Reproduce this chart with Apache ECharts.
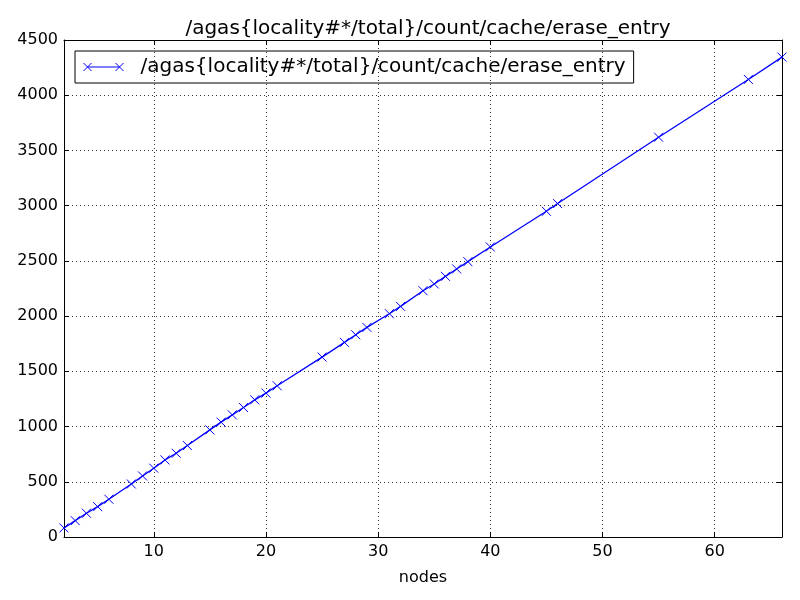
<!DOCTYPE html>
<html>
<head>
<meta charset="utf-8">
<script src="https://cdn.jsdelivr.net/npm/echarts@6/dist/echarts.min.js"></script>
<style>
html, body { margin: 0; padding: 0; background: #fff; }
#main { width: 800px; height: 600px; }
</style>
</head>
<body>
<div id="main"></div>
<script>
// 数据
var seriesName = '/agas{locality#*/total}/count/cache/erase_entry';
var nodes = [2, 3, 4, 5, 6, 8, 9, 10, 11, 12, 13, 15, 16, 17, 18, 19, 20, 21,
	25, 27, 28, 29, 31, 32, 34, 35, 36, 37, 38, 40, 45, 46, 55, 63, 66];
var counts = [82, 148, 215, 275, 342, 480, 553, 623, 698, 758, 828, 970, 1040, 1106, 1172, 1242, 1303, 1369,
	1629, 1762, 1831, 1898, 2022, 2088, 2230, 2291, 2360, 2427, 2493, 2626, 2949, 3019, 3620, 4143, 4345];
var xTicks = [10, 20, 30, 40, 50, 60];

var font = 'DejaVu Sans';
var xMark = 'path://M0,0L10,10M10,0L0,10';
var legendIcon = 'path://M4,4L36,4M0,0L8,8M8,0L0,8M32,0L40,8M40,0L32,8';

var points = [];
for (var i = 0; i < nodes.length; i++) {
	points.push([nodes[i], counts[i]]);
}

var gridLine = { show: true, lineStyle: { color: '#000', width: 0.8, type: [1, 3] } };

// 公共的x轴配置
function makeX(pos, showLabel) {
	return {
		type: 'value', position: pos, min: 2, max: 66,
		axisLine: { show: true, onZero: false, lineStyle: { color: '#000', width: 1 } },
		axisTick: { show: true, inside: true, length: 5, customValues: xTicks, lineStyle: { color: '#000' } },
		axisLabel: { show: showLabel, customValues: xTicks, color: '#000', fontFamily: font, fontSize: 16, margin: 7 },
		splitLine: showLabel ? gridLine : { show: false }
	};
}
function makeY(pos, showLabel) {
	return {
		type: 'value', position: pos, min: 0, max: 4500, interval: 500,
		axisLine: { show: true, onZero: false, lineStyle: { color: '#000', width: 1 } },
		axisTick: { show: true, inside: true, length: 5, lineStyle: { color: '#000' } },
		axisLabel: {
			show: showLabel, color: '#000', fontFamily: font, fontSize: 16, margin: 6,
			formatter: function (v) { return String(v); }
		},
		splitLine: showLabel ? gridLine : { show: false }
	};
}

var xBottom = makeX('bottom', true);
xBottom.name = 'nodes';
xBottom.nameLocation = 'middle';
xBottom.nameGap = 33;
xBottom.nameTextStyle = { color: '#000', fontFamily: font, fontSize: 16 };

var myChart = echarts.init(document.getElementById('main'), null, { renderer: 'canvas' });
var option = {
	backgroundColor: '#fff',
	animation: false,
	title: {
		text: seriesName,
		left: 423, top: 14, textAlign: 'center',
		textStyle: { color: '#000', fontFamily: font, fontSize: 20, fontWeight: 'normal' }
	},
	legend: {
		left: 75, top: 51,
		orient: 'vertical',
		padding: [6, 8, 6, 6],
		borderColor: '#000', borderWidth: 1,
		itemWidth: 40, itemHeight: 8,
		data: [{ name: seriesName, icon: legendIcon }],
		itemStyle: { color: 'none', borderColor: '#0000ff', borderWidth: 1 },
		textStyle: { color: '#000', fontFamily: font, fontSize: 20, padding: [0, 0, 0, 12] }
	},
	grid: { left: 64, right: 18, top: 40, bottom: 63, containLabel: false },
	xAxis: [xBottom, makeX('top', false)],
	yAxis: [makeY('left', true), makeY('right', false)],
	series: [{
		name: seriesName,
		type: 'line',
		data: points,
		symbol: xMark,
		symbolSize: 9,
		showAllSymbol: true,
		lineStyle: { color: '#0000ff', width: 1.3 },
		itemStyle: { color: 'none', borderColor: '#0000ff', borderWidth: 1 }
	}]
};
myChart.setOption(option);
</script>
</body>
</html>
